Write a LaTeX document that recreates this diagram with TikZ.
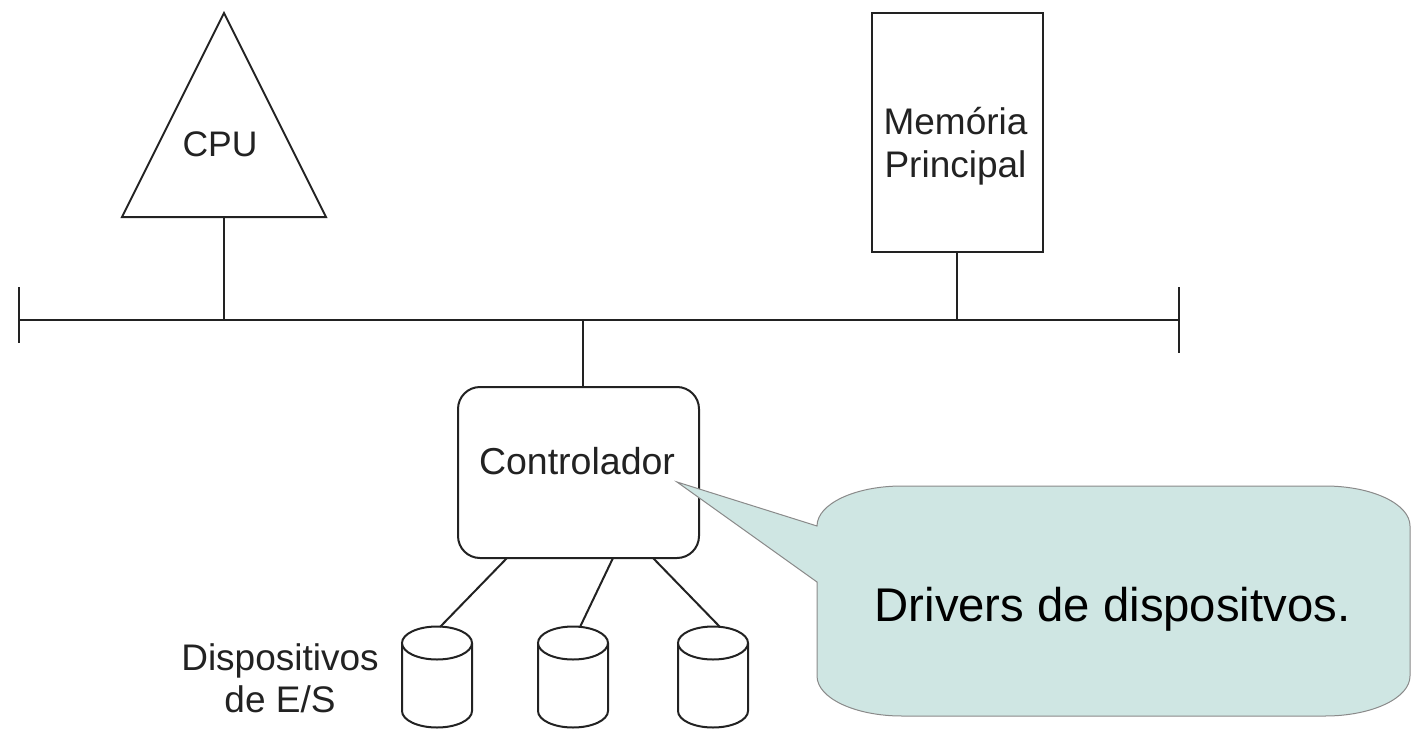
\documentclass[tikz,border=0pt]{standalone}
\usepackage{fontspec}
\setmainfont{Liberation Sans}
\definecolor{ink}{RGB}{34,34,34}
\definecolor{bubble}{RGB}{207,230,227}
\definecolor{bubbleline}{RGB}{138,138,138}
\tikzset{
  wire/.style={line width=2pt, draw=ink},
  block/.style={wire, fill=white, inner sep=0pt},
  lbl/.style={inner sep=0pt, anchor=base, text=ink, font=\fontsize{37}{42}\selectfont},
  callout/.style={fill=bubble, draw=bubbleline, line width=1pt},
}
\begin{document}
\begin{tikzpicture}[x=1pt, y=-1pt]
\useasboundingbox (0,0) rectangle (1412,730);

% system bus with end stops
\coordinate (busL) at (19,320);
\coordinate (busR) at (1179,320);
\coordinate (busCPU) at (224,320);
\coordinate (busMem) at (957,320);
\coordinate (busCtl) at (583,320);
\coordinate (stopLt) at (19,287);  \coordinate (stopLb) at (19,343);
\coordinate (stopRt) at (1179,287); \coordinate (stopRb) at (1179,353);
\draw[wire] (busL) -- (busR);
\draw[wire] (stopLt) -- (stopLb);
\draw[wire] (stopRt) -- (stopRb);

% CPU
\coordinate (cpuTop) at (224,13);
\coordinate (cpuL) at (122,217);
\coordinate (cpuR) at (326,217);
\coordinate (cpuB) at (224,217);
\draw[wire, line join=miter] (cpuTop) -- (cpuR) -- (cpuL) -- cycle;
\node[lbl, font=\fontsize{35.5}{40}\selectfont] (cpuTxt) at (220,157) {CPU};
\draw[wire] (cpuB) -- (busCPU);

% main memory
\node[block, minimum width=171pt, minimum height=239pt] (mem) at (957.5,132.5) {};
\node[lbl] (memTxt1) at (955.5,135) {Memória};
\node[lbl] (memTxt2) at (955.5,178) {Principal};
\draw[wire] (mem.south -| busMem) -- (busMem);

% controller
\node[block, rounded corners=22pt, minimum width=241pt, minimum height=171pt] (ctl) at (578.5,472.5) {};
\node[lbl, font=\fontsize{37.5}{42}\selectfont] (ctlTxt) at (577,474) {Controlador};
\draw[wire] (busCtl) -- (busCtl |- ctl.north);

% I/O devices
\foreach \n/\c in {1/437,2/573,3/713}{
  \draw[block] ({\c-35},643) -- ({\c-35},711)
    .. controls ({\c-35},720.1) and ({\c-19.3},727.5) .. (\c,727.5)
    .. controls ({\c+19.3},727.5) and ({\c+35},720.1) .. ({\c+35},711)
    -- ({\c+35},643);
  \draw[block] (\c,643) ellipse [x radius=35, y radius=16.5];
}
\coordinate (ctlP1) at (507,558); \coordinate (disk1) at (440,627);
\coordinate (ctlP2) at (613,558); \coordinate (disk2) at (580,627);
\coordinate (ctlP3) at (653,558); \coordinate (disk3) at (720,627);
\draw[wire] (ctlP1) -- (disk1);
\draw[wire] (ctlP2) -- (disk2);
\draw[wire] (ctlP3) -- (disk3);
\node[lbl] (devTxt1) at (280,670) {Dispositivos};
\node[lbl] (devTxt2) at (280,712) {de E/S};

% speech bubble pointing at the controller
\coordinate (tip) at (677,482);
\draw[callout] (tip) -- (817,582) -- (817,676)
  .. controls (817,698.1) and (855,716) .. (902,716) -- (1325,716)
  .. controls (1372,716) and (1410,698.1) .. (1410,676) -- (1410,526)
  .. controls (1410,503.9) and (1372,486) .. (1325,486) -- (902,486)
  .. controls (855,486) and (817,503.9) .. (817,526) -- cycle;
\node[lbl, text=black, font=\fontsize{47.3}{52}\selectfont] (drvTxt) at (1112.5,621) {Drivers de dispositvos.};
\end{tikzpicture}
\end{document}
